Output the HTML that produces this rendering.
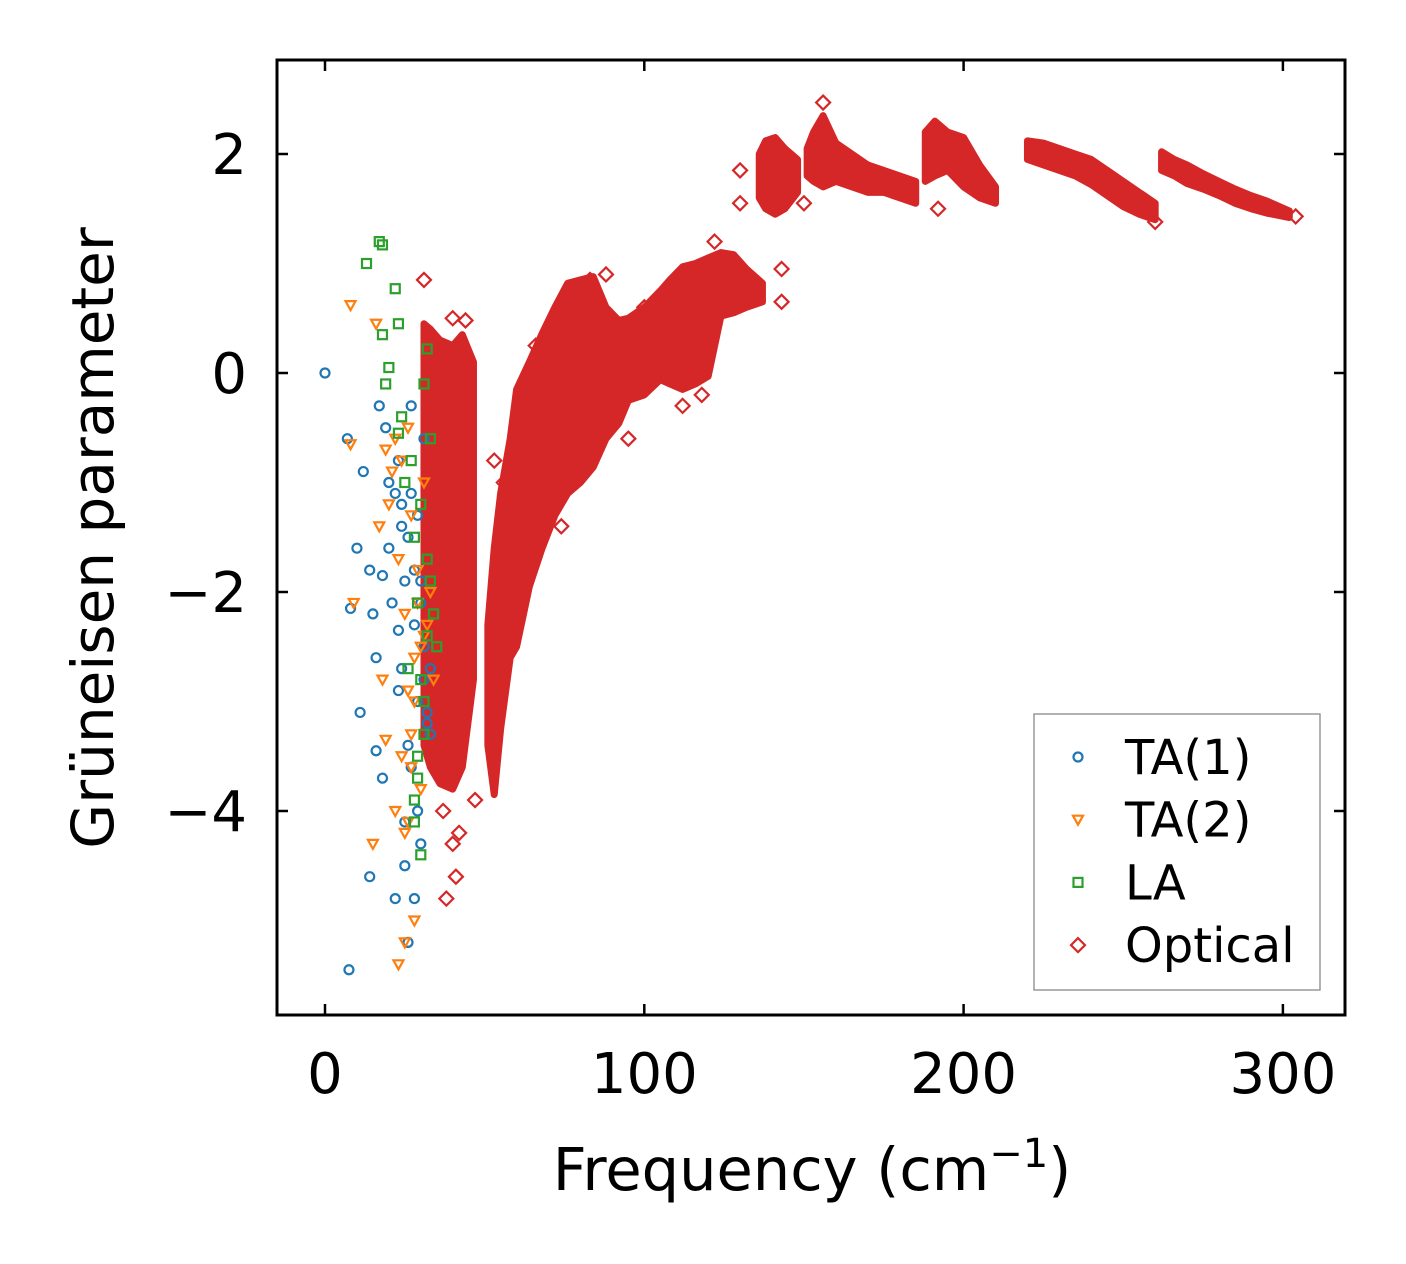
<!DOCTYPE html>
<html><head><meta charset="utf-8"><style>
html,body{margin:0;padding:0;background:#fff;}
svg{display:block;font-family:"DejaVu Sans","Liberation Sans",sans-serif;}
</style></head><body>
<svg id="chart" width="1406" height="1264" viewBox="0 0 1406 1264">
<rect width="1406" height="1264" fill="#fff"/>
<g id="marks"></g>
<g id="axes"></g>
<text x="812" y="1190" font-size="59" text-anchor="middle">Frequency (cm<tspan dy="-23" font-size="40">−1</tspan><tspan dy="23">)</tspan></text>
<text transform="translate(113,538) rotate(-90)" font-size="58" text-anchor="middle">Grüneisen parameter</text>
<g id="legend">
<rect x="1034" y="714" width="286" height="276" fill="#fff" stroke="#999" stroke-width="1.5"/>
</g>
</svg>
<script>
const xTicks=[0,100,200,300];
const yTicks=[2,0,-2,-4];
const yTickLabels=["2","0","−2","−4"];
// Optical dense bands: frequency, upper and lower gamma edges
const bandFreq=[
 [31,33,36,40,43,46.5],
 [51,53,55,58,60,64,68,72,76,80,84,88,92,95,100,105,108,112,116,120,124,128,132,137],
 [136,138,141,144,148],
 [151,153,156,160,165,170,175,180,185],
 [188,191,195,200,205,210],
 [220,225,230,235,240,245,250,255,260],
 [262,266,270,275,280,285,290,295,302]];
const bandHi=[
 [0.45,0.4,0.3,0.25,0.35,0.1],
 [-2.3,-1.6,-1.1,-0.6,-0.15,0.1,0.36,0.6,0.82,0.85,0.88,0.6,0.48,0.5,0.6,0.75,0.85,0.97,1.0,1.05,1.1,1.08,0.95,0.82],
 [2.0,2.12,2.15,2.05,1.95],
 [2.05,2.2,2.35,2.1,2.0,1.9,1.85,1.8,1.75],
 [2.2,2.3,2.2,2.15,1.9,1.7],
 [2.12,2.1,2.05,2.0,1.95,1.85,1.75,1.65,1.55],
 [2.02,1.95,1.9,1.82,1.75,1.68,1.62,1.57,1.48]];
const bandLo=[
 [-3.4,-3.6,-3.75,-3.8,-3.6,-2.8],
 [-3.4,-3.85,-3.25,-2.6,-2.5,-1.95,-1.6,-1.3,-1.1,-1.0,-0.86,-0.6,-0.46,-0.25,-0.2,-0.06,-0.1,-0.15,-0.1,-0.03,0.52,0.55,0.6,0.65],
 [1.6,1.5,1.45,1.5,1.65],
 [1.8,1.75,1.7,1.75,1.7,1.65,1.65,1.6,1.55],
 [1.75,1.8,1.85,1.7,1.6,1.55],
 [1.95,1.9,1.85,1.8,1.72,1.62,1.52,1.45,1.4],
 [1.85,1.8,1.73,1.68,1.62,1.55,1.5,1.46,1.42]];
const optFreq=[31,38,40,44,40,88,130,130,143,143,156,192,260,304,150,64,53,41,47,34,58,122,112,95,37,42,66,72,78,83,74,60,56,63,100,108,118,126,135];
const optGamma=[0.85,-4.8,-4.3,0.48,0.5,0.9,1.85,1.55,0.95,0.65,2.47,1.5,1.38,1.43,1.55,-0.05,-0.8,-4.6,-3.9,-3.5,-1.0,1.2,-0.3,-0.6,-4.0,-4.2,0.25,0.45,0.72,0.85,-1.4,-1.1,-1.0,-0.4,0.6,0.7,-0.2,0.9,0.7];
const ta1Freq=[0,7,8,7.5,10,11,12,14,14,15,16,16,17,18,18,19,20,20,21,22,22,23,23,24,24,25,25,26,26,27,27,28,28,29,29,30,30,31,32,33,24,26,28,30,31,32,27,29,25,23,31,33];
const ta1Gamma=[0,-0.6,-2.15,-5.45,-1.6,-3.1,-0.9,-1.8,-4.6,-2.2,-2.6,-3.45,-0.3,-1.85,-3.7,-0.5,-1.0,-1.6,-2.1,-1.1,-4.8,-2.35,-0.8,-1.4,-2.7,-1.9,-4.1,-5.2,-3.4,-1.1,-0.3,-2.3,-4.8,-3.0,-1.3,-4.3,-1.9,-2.8,-3.1,-2.7,-1.2,-1.5,-1.8,-2.1,-2.5,-3.2,-3.6,-4.0,-4.5,-2.9,-0.6,-3.3];
const ta2Freq=[8,8,9,15,16,17,18,19,19,20,21,22,23,23,24,25,25,26,26,27,27,28,28,29,30,30,31,32,33,34,24,26,28,29,31,22,25,27];
const ta2Gamma=[0.62,-0.65,-2.1,-4.3,0.45,-1.4,-2.8,-0.7,-3.35,-1.2,-0.9,-4.0,-1.7,-5.4,-3.5,-2.2,-5.2,-0.5,-4.1,-1.3,-3.3,-2.6,-5.0,-1.8,-2.5,-3.8,-1.0,-2.3,-2.0,-2.8,-0.8,-2.9,-3.0,-2.1,-2.4,-0.6,-4.2,-3.6];
const laFreq=[13,17,18,18,19,20,22,23,23,24,25,26,27,28,28,29,29,30,30,31,31,32,32,33,33,34,35,30,31,29,32,28];
const laGamma=[1.0,1.2,1.17,0.35,-0.1,0.05,0.77,0.45,-0.55,-0.4,-1.0,-2.7,-0.8,-1.5,-3.9,-3.5,-2.1,-1.2,-4.4,-0.1,-3.0,0.22,-2.4,-0.6,-1.9,-2.2,-2.5,-2.8,-3.3,-3.7,-1.7,-4.1];

const X0=277,X1=1345,Y0=60,Y1=1015;
function sx(v){return 325+v*3.193;}
function sy(v){return 373-v*109.5;}
const NS="http://www.w3.org/2000/svg";
const marks=document.getElementById('marks'),axes=document.getElementById('axes'),legend=document.getElementById('legend');
function mk(tag,attrs,parent){const e=document.createElementNS(NS,tag);for(const k in attrs)e.setAttribute(k,attrs[k]);parent.appendChild(e);return e;}

for(let b=0;b<bandFreq.length;b++){
 const pts=[];
 for(let i=0;i<bandFreq[b].length;i++)pts.push(sx(bandFreq[b][i])+','+sy(bandHi[b][i]));
 for(let i=bandFreq[b].length-1;i>=0;i--)pts.push(sx(bandFreq[b][i])+','+sy(bandLo[b][i]));
 const p=mk('polygon',{points:pts.join(' '),fill:'#d62728',stroke:'#d62728','stroke-width':7,'stroke-linejoin':'round'},marks);
 
 
}
function diamond(x,y,parent){return mk('path',{d:`M${x},${y-7}L${x+7},${y}L${x},${y+7}L${x-7},${y}Z`,fill:'none',stroke:'#d62728','stroke-width':2.2},parent);}
function circle(x,y,parent){return mk('circle',{cx:x,cy:y,r:4.5,fill:'none',stroke:'#1f77b4','stroke-width':2.2},parent);}
function tri(x,y,parent){return mk('path',{d:`M${x-5},${y-4}L${x+5},${y-4}L${x},${y+5}Z`,fill:'none',stroke:'#ff7f0e','stroke-width':2.2},parent);}
function sq(x,y,parent){return mk('rect',{x:x-4.5,y:y-4.5,width:9,height:9,fill:'none',stroke:'#2ca02c','stroke-width':2.2},parent);}
for(let i=0;i<optFreq.length;i++){const e=diamond(sx(optFreq[i]),sy(optGamma[i]),marks);
 
 }
for(let i=0;i<ta1Freq.length;i++){const e=circle(sx(ta1Freq[i]),sy(ta1Gamma[i]),marks);
 
 }
for(let i=0;i<ta2Freq.length;i++){const e=tri(sx(ta2Freq[i]),sy(ta2Gamma[i]),marks);
 
 }
for(let i=0;i<laFreq.length;i++){const e=sq(sx(laFreq[i]),sy(laGamma[i]),marks);
 
 }

const frame=mk('rect',{x:X0,y:Y0,width:X1-X0,height:Y1-Y0,fill:'none',stroke:'#000','stroke-width':3},axes);


xTicks.forEach(v=>{const x=sx(v);
 mk('line',{x1:x,y1:Y1,x2:x,y2:Y1-11,stroke:'#000','stroke-width':2.5},axes);
 mk('line',{x1:x,y1:Y0,x2:x,y2:Y0+11,stroke:'#000','stroke-width':2.5},axes);
 const t=mk('text',{x:x,y:1093,'font-size':56,'text-anchor':'middle'},axes);t.textContent=v;
 
 });
yTicks.forEach((v,i)=>{const y=sy(v);
 mk('line',{x1:X0,y1:y,x2:X0+11,y2:y,stroke:'#000','stroke-width':2.5},axes);
 mk('line',{x1:X1,y1:y,x2:X1-11,y2:y,stroke:'#000','stroke-width':2.5},axes);
 const t=mk('text',{x:247,y:y+20,'font-size':56,'text-anchor':'end'},axes);t.textContent=yTickLabels[i];
 
 });

const legNames=["TA(1)","TA(2)","LA","Optical"];
const legFns=[circle,tri,sq,diamond];
legNames.forEach((n,i)=>{const y=757+i*62.7;
 const m=legFns[i](1078,y,legend);
 
 
 const t=mk('text',{x:1125,y:y+17,'font-size':48},legend);t.textContent=n;
 
 });
</script>
</body></html>
